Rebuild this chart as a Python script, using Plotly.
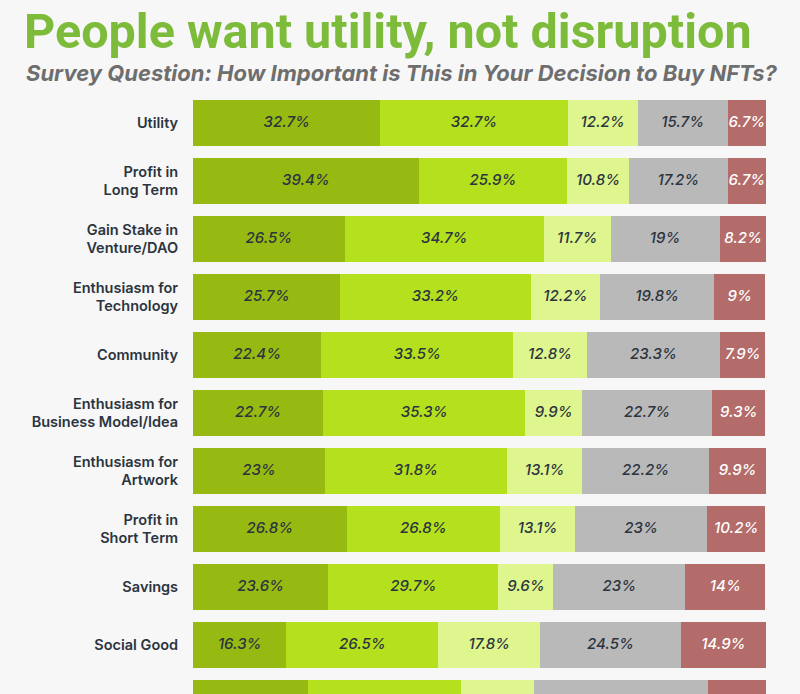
import plotly.graph_objects as go

categories = [
    "Utility",
    "Profit in<br>Long Term",
    "Gain Stake in<br>Venture/DAO",
    "Enthusiasm for<br>Technology",
    "Community",
    "Enthusiasm for<br>Business Model/Idea",
    "Enthusiasm for<br>Artwork",
    "Profit in<br>Short Term",
    "Savings",
    "Social Good",
    "",
]

very_important = [32.7, 39.4, 26.5, 25.7, 22.4, 22.7, 23, 26.8, 23.6, 16.3, 20.1]
important = [32.7, 25.9, 34.7, 33.2, 33.5, 35.3, 31.8, 26.8, 29.7, 26.5, 26.6]
somewhat = [12.2, 10.8, 11.7, 12.2, 12.8, 9.9, 13.1, 13.1, 9.6, 17.8, 12.8]
neutral = [15.7, 17.2, 19, 19.8, 23.3, 22.7, 22.2, 23, 23, 24.5, 30.4]
not_important = [6.7, 6.7, 8.2, 9, 7.9, 9.3, 9.9, 10.2, 14, 14.9, 10.1]

series = [
    ("Very important", very_important, "#97BA12", "#2B3440"),
    ("Important", important, "#B5E01D", "#2B3440"),
    ("Somewhat important", somewhat, "#DEF68D", "#2B3440"),
    ("Neutral", neutral, "#B9B9B9", "#2B3440"),
    ("Not important", not_important, "#B36C69", "#FFFFFF"),
]

W, H = 800, 694
TOP = 94
pitch = 58
first_center = 123
idx = list(range(len(categories)))
n_labeled = 10  # last row is cut off at the bottom edge, its labels are not visible

fig = go.Figure()
base = [0.0] * len(categories)
for name, vals, color, tcolor in series:
    fig.add_trace(go.Bar(
        y=idx, x=vals, orientation="h", name=name,
        marker=dict(color=color, line=dict(width=0)),
        width=46 / pitch,
        hoverinfo="skip",
    ))
    mids = [b + v / 2 for b, v in zip(base, vals)]
    fig.add_trace(go.Scatter(
        x=mids[:n_labeled], y=idx[:n_labeled], mode="text",
        text=[f"{v:g}%" for v in vals[:n_labeled]],
        textposition="middle center",
        textfont=dict(family="Inter", size=15, color=tcolor, style="italic", weight=500),
        hoverinfo="skip", showlegend=False,
    ))
    base = [b + v for b, v in zip(base, vals)]

y_top = (TOP - first_center) / pitch
y_bot = (H - first_center) / pitch

fig.update_layout(
    barmode="stack",
    width=W, height=H,
    margin=dict(l=0, r=0, t=TOP, b=0),
    paper_bgcolor="#F7F7F7", plot_bgcolor="#F7F7F7",
    showlegend=False,
    xaxis=dict(domain=[193 / W, 766 / W], range=[0, 100], visible=False, fixedrange=True),
    yaxis=dict(
        range=[y_bot, y_top], tickvals=idx, ticktext=categories,
        showgrid=False, zeroline=False, showline=False, fixedrange=True,
        ticks="outside", ticklen=11, tickcolor="rgba(0,0,0,0)",
        tickfont=dict(family="Inter", size=14.5, color="#2B3440", weight=600),
    ),
)

def py(p):
    return (H - p) / (H - TOP)

fig.add_annotation(
    text="People want utility, not disruption", xref="paper", yref="paper",
    x=387.5 / W, y=py(31), showarrow=False, xanchor="center", yanchor="middle",
    font=dict(family="Roboto", size=48.5, color="#7DBB3B", weight=700),
)
fig.add_annotation(
    text="Survey Question: How Important is This in Your Decision to Buy NFTs?",
    xref="paper", yref="paper",
    x=402 / W, y=py(73), showarrow=False, xanchor="center", yanchor="middle",
    font=dict(family="Inter", size=22, color="#6E6E6E", weight=700, style="italic"),
)

fig.write_html(
    "out.html",
    config={"displayModeBar": False},
    post_script="document.body.style.margin='0';document.body.style.background='#F7F7F7';document.body.style.overflow='hidden';",
)
